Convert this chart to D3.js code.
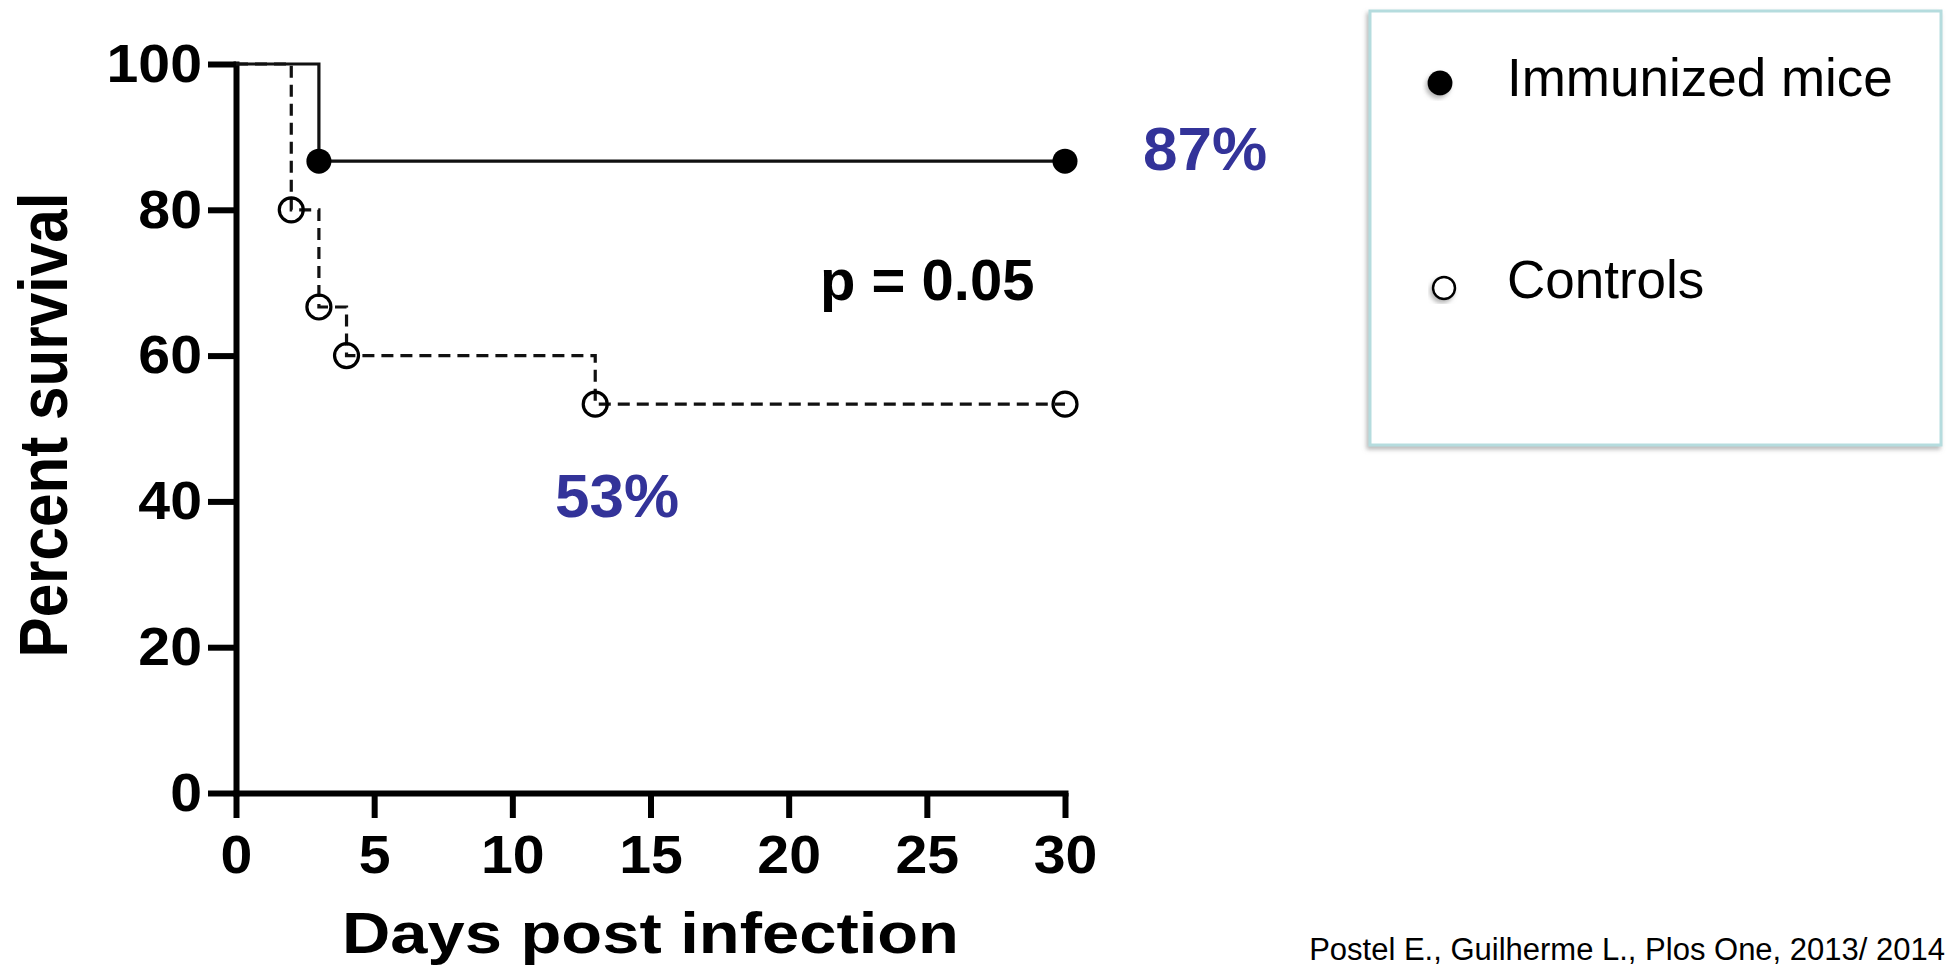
<!DOCTYPE html>
<html>
<head>
<meta charset="utf-8">
<script src="https://cdn.jsdelivr.net/npm/d3@7"></script>
<style>
    body { margin: 0; background: #fff; }
    svg { display: block; overflow: hidden; }
    .axis text { font-family: "Liberation Sans", Arial, sans-serif; font-weight: bold; font-size: 54px; fill: #000; }
    .axis path, .axis line { stroke: #000; stroke-width: 6; }
</style>
</head>
<body>
<div id="chart"></div>
<script>
// Kaplan-Meier survival
const immunizedDays = [0, 3, 30];
const immunizedSurvival = [100, 86.67, 86.67];
const immunizedMarks = [3, 30];

const controlDays = [0, 2, 3, 4, 13, 30];
const controlSurvival = [100, 80, 66.67, 60, 53.33, 53.33];
const controlMarks = [2, 3, 4, 13, 30];

const xTicks = [0, 5, 10, 15, 20, 25, 30];
const yTicks = [0, 20, 40, 60, 80, 100];

const seriesNames = ['Immunized mice', 'Controls'];
const finalLabels = ['87%', '53%'];
const pLabel = 'p = 0.05';
const citation = 'Postel E.,  Guilherme L.,  Plos One,  2013/ 2014';

const width = 1948;
const height = 966;
const blue = '#333399';

const svg = d3.select('#chart')
    .append('svg')
    .attr('width', width)
    .attr('height', height);

const defs = svg.append('defs');
const shadow = defs.append('filter')
    .attr('id', 'shadow')
    .attr('x', '-20%').attr('y', '-20%')
    .attr('width', '140%').attr('height', '140%');
shadow.append('feDropShadow')
    .attr('dx', -2).attr('dy', 3)
    .attr('stdDeviation', 2)
    .attr('flood-color', '#888')
    .attr('flood-opacity', 0.6);

// plot area in page pixels
const xScale = d3.scaleLinear()
    .domain([0, 30])
    .range([236, 1065]);
const yScale = d3.scaleLinear()
    .domain([0, 100])
    .range([793, 64]);

const xAxis = d3.axisBottom(xScale)
    .tickValues(xTicks)
    .tickSize(25)
    .tickSizeOuter(0)
    .tickPadding(17);

svg.append('g')
    .classed('x axis', true)
    .attr('transform', `translate(0,${yScale(0)})`)
    .call(xAxis);

const yAxis = d3.axisLeft(yScale)
    .tickValues(yTicks)
    .tickSize(28)
    .tickSizeOuter(0)
    .tickPadding(6);

svg.append('g')
    .classed('y axis', true)
    .attr('transform', `translate(${xScale(0)},0)`)
    .call(yAxis);

// the source digits are a little wider than Liberation's
svg.selectAll('.x.axis .tick text').attr('transform', 'scale(1.06,1)');
svg.selectAll('.y.axis .tick text')
    .attr('x', -34 / 1.06)
    .attr('transform', 'scale(1.06,1)');
svg.selectAll('.axis path').attr('stroke-linecap', 'square');

// axis titles
svg.append('text')
    .attr('x', 342)
    .attr('y', 953)
    .attr('textLength', 617)
    .attr('lengthAdjust', 'spacingAndGlyphs')
    .style('font-family', '"Liberation Sans", Arial, sans-serif')
    .style('font-weight', 'bold')
    .style('font-size', '58px')
    .text('Days post infection');

svg.append('text')
    .attr('transform', 'translate(67,425) rotate(-90)')
    .attr('text-anchor', 'middle')
    .attr('textLength', 465)
    .attr('lengthAdjust', 'spacingAndGlyphs')
    .style('font-family', '"Liberation Sans", Arial, sans-serif')
    .style('font-weight', 'bold')
    .style('font-size', '68px')
    .text('Percent survival');

// survival curves
const line = d3.line()
    .x(d => xScale(d[0]))
    .y(d => yScale(d[1]))
    .curve(d3.curveStepAfter);

const immunized = immunizedDays.map((d, i) => [d, immunizedSurvival[i]]);
const controls = controlDays.map((d, i) => [d, controlSurvival[i]]);

svg.append('path')
    .datum(controls)
    .attr('d', line)
    .attr('fill', 'none')
    .attr('stroke', '#111')
    .attr('stroke-width', 3.2)
    .attr('stroke-dasharray', '12,7');

svg.append('path')
    .datum(immunized)
    .attr('d', line)
    .attr('fill', 'none')
    .attr('stroke', '#111')
    .attr('stroke-width', 3.2);

svg.selectAll('.dot-imm')
    .data(immunized.filter(d => immunizedMarks.includes(d[0])))
    .enter()
    .append('circle')
    .classed('dot-imm', true)
    .attr('cx', d => xScale(d[0]))
    .attr('cy', d => yScale(d[1]))
    .attr('r', 12.5)
    .attr('fill', '#000');

svg.selectAll('.dot-ctl')
    .data(controls.filter(d => controlMarks.includes(d[0])))
    .enter()
    .append('circle')
    .classed('dot-ctl', true)
    .attr('cx', d => xScale(d[0]))
    .attr('cy', d => yScale(d[1]))
    .attr('r', 12)
    .attr('fill', 'none')
    .attr('stroke', '#000')
    .attr('stroke-width', 3.2);

// annotations
const labelFont = '"Liberation Sans", Arial, sans-serif';
svg.append('text')
    .attr('x', 1143)
    .attr('y', 170)
    .attr('fill', blue)
    .style('font-family', labelFont)
    .style('font-weight', 'bold')
    .style('font-size', '62px')
    .text(finalLabels[0]);

svg.append('text')
    .attr('x', 555)
    .attr('y', 517)
    .attr('fill', blue)
    .style('font-family', labelFont)
    .style('font-weight', 'bold')
    .style('font-size', '62px')
    .text(finalLabels[1]);

svg.append('text')
    .attr('x', 820)
    .attr('y', 300)
    .attr('fill', '#000')
    .style('font-family', labelFont)
    .style('font-weight', 'bold')
    .style('font-size', '58px')
    .text(pLabel);

// legend box
const legend = svg.append('g').classed('legend', true);
legend.append('rect')
    .attr('x', 1370)
    .attr('y', 11)
    .attr('width', 571)
    .attr('height', 434)
    .attr('fill', '#fff')
    .attr('stroke', '#b5dcde')
    .attr('stroke-width', 3)
    .attr('filter', 'url(#shadow)');

const legendRows = [
    { name: seriesNames[0], cx: 1440, cy: 83, base: 96, filled: true },
    { name: seriesNames[1], cx: 1444, cy: 288, base: 298, filled: false }
];

legend.selectAll('.legend-mark')
    .data(legendRows)
    .enter()
    .append('circle')
    .classed('legend-mark', true)
    .attr('cx', d => d.cx)
    .attr('cy', d => d.cy)
    .attr('r', d => d.filled ? 12.5 : 11)
    .attr('fill', d => d.filled ? '#000' : '#fff')
    .attr('stroke', '#000')
    .attr('stroke-width', d => d.filled ? 0 : 2.5)
    .attr('filter', 'url(#shadow)');

legend.selectAll('.legend-label')
    .data(legendRows)
    .enter()
    .append('text')
    .classed('legend-label', true)
    .attr('x', 1507)
    .attr('y', d => d.base)
    .style('font-family', labelFont)
    .style('font-size', '53px')
    .text(d => d.name);

// citation at the bottom edge, kept fully inside the page
svg.append('text')
    .attr('x', 1945)
    .attr('y', 960)
    .attr('text-anchor', 'end')
    .style('font-family', labelFont)
    .style('font-size', '31px')
    .text(citation);
</script>
</body>
</html>
